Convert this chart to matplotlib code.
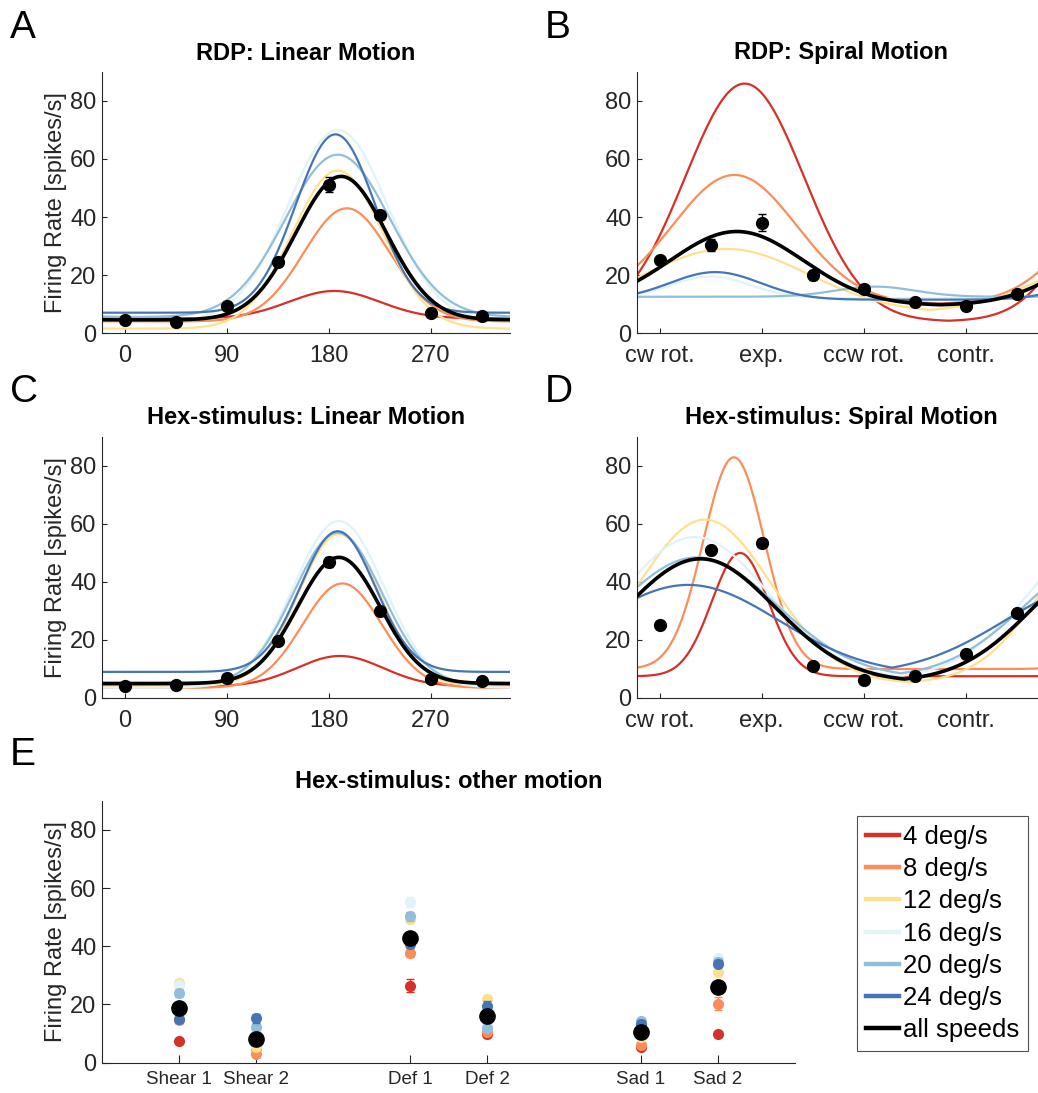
import numpy as np
import matplotlib
matplotlib.use('Agg')
import matplotlib.pyplot as plt
from matplotlib.lines import Line2D

plt.rcParams['font.family'] = ['Liberation Sans', 'DejaVu Sans']

speeds = ['4 deg/s', '8 deg/s', '12 deg/s', '16 deg/s', '20 deg/s', '24 deg/s', 'all speeds']
colors = ['#d73027', '#fc8d59', '#fee090', '#e0f3f8', '#91bfdb', '#4575b4', '#000000']

dirs = [0, 45, 90, 135, 180, 225, 270, 315]
spiral_labels = ['cw rot.', 'exp.', 'ccw rot.', 'contr.']

# measured responses (all speeds pooled) + sem
rdpLin = [4.6, 3.9, 9.4, 24.5, 51.1, 40.6, 6.9, 5.9]
rdpLinErr = [0.8, 0.7, 1.2, 1.5, 2.6, 1.3, 0.9, 0.8]
rdpSpi = [25.1, 30.3, 38.1, 20.0, 15.3, 10.6, 9.4, 13.3]
rdpSpiErr = [1.2, 2.0, 3.0, 1.8, 1.2, 0.8, 0.8, 1.0]
hexLin = [4.0, 4.6, 6.9, 19.7, 46.9, 30.0, 6.5, 5.9]
hexLinErr = [0.6, 0.6, 0.8, 1.2, 1.7, 1.2, 0.7, 0.7]
hexSpi = [25.1, 50.9, 53.4, 11.1, 6.1, 7.7, 15.2, 29.4]
hexSpiErr = [0.4, 0.5, 0.5, 0.4, 0.3, 0.3, 0.4, 0.4]

# fitted tuning curves per speed: (baseline, amplitude, preferred dir, width)
fitRdpLin = [(5, 9.5, 185, 40), (4, 39, 196, 38), (1.5, 54.5, 188, 40), (4, 66, 188, 44),
             (5.5, 56, 188, 46), (7, 61.5, 186, 35), (4.5, 49.5, 191, 40)]
fitRdpSpi = [(4, 82, 75, 52.5), (10, 44.5, 66, 55), (7, 22, 59, 72), (12, 7.5, 45, 35),
             (12.5, 3.5, 190, 35), (11.5, 9.5, 49, 40), (9.5, 25.5, 68, 59)]
fitHexLin = [(4, 10.5, 190, 38), (3.5, 36, 192, 35), (4, 52.5, 189, 36), (3.5, 57.5, 189, 40),
             (4.5, 52.5, 188, 39), (9, 48.5, 188, 33), (5, 43.5, 189, 36.5)]
fitHexSpi = [(7.5, 42.5, 71, 25), (10, 73, 65.5, 27), (5, 56.5, 40, 58.7), (6.5, 49, 31, 65),
             (7, 41.5, 33, 70), (8, 31, 25, 80), (5.5, 42.5, 36, 66)]

# other motion patterns (hex stimulus)
otherCats = ['Shear 1', 'Shear 2', 'Def 1', 'Def 2', 'Sad 1', 'Sad 2']
otherPos = [1, 2, 4, 5, 7, 8]
other = [[7.3, 5.0, 26.4, 9.8, 5.5, 9.7],
         [14.5, 3.0, 37.8, 10.5, 6.1, 20.2],
         [27.4, 5.5, 49.5, 21.8, 9.0, 31.1],
         [26.6, 10.6, 55.2, 12.5, 13.0, 35.8],
         [23.8, 12.1, 50.3, 11.9, 14.2, 34.7],
         [14.9, 15.2, 40.7, 19.4, 13.3, 34.0],
         [18.7, 8.3, 42.7, 16.1, 10.6, 26.1]]
otherErr = [[0.8, 0.6, 2.2, 1.0, 0.8, 0.8],
            [1.0, 0.8, 1.5, 0.9, 0.8, 2.2],
            [1.5, 0.8, 1.5, 1.4, 1.0, 1.2],
            [1.2, 1.0, 1.8, 1.2, 1.2, 1.3],
            [1.4, 1.0, 1.5, 1.0, 1.0, 1.3],
            [1.2, 1.5, 1.3, 1.8, 1.2, 1.2],
            [0.4, 0.4, 0.5, 0.4, 0.4, 0.5]]

W, H = 1038, 1093
axcol = '#262626'


def tuning(x, b, a, mu, s):
    d = (x - mu + 180) % 360 - 180
    return b + a * np.exp(-d**2 / (2.0 * s**2))


def styleAx(ax, ticklen=3.5):
    for sp in ['top', 'right']:
        ax.spines[sp].set_visible(False)
    for sp in ['left', 'bottom']:
        ax.spines[sp].set_color(axcol)
        ax.spines[sp].set_linewidth(0.8)
    ax.tick_params(direction='in', length=ticklen, width=0.8, color=axcol,
                   labelcolor=axcol, labelsize=17, pad=4)
    ax.tick_params(axis='x', pad=8.5)
    ax.set_ylim(0, 90)
    ax.set_yticks([0, 20, 40, 60, 80])


def tuningPanel(rect, fits, resp, err, title, spiral=False, ylabel=True):
    ax = fig.add_axes(rect)
    xs = np.linspace(-20, 340, 721)
    for i, p in enumerate(fits):
        lw = 2.6 if i == 6 else 1.6
        ax.plot(xs, tuning(xs, *p), color=colors[i], lw=lw, zorder=2 + (i == 6))
    ax.errorbar(dirs, resp, yerr=err, fmt='o', color='k', ms=8.5, capsize=3,
                elinewidth=1, zorder=4)
    ax.set_xlim(-20, 340)
    styleAx(ax)
    ax.set_xticks([0, 90, 180, 270])
    if spiral:
        ax.set_xticklabels(spiral_labels)
    if ylabel:
        ax.set_ylabel('Firing Rate [spikes/s]', fontsize=17, color=axcol, labelpad=2)
    ax.set_title(title, fontsize=17, fontweight='bold', pad=9)
    return ax


fig = plt.figure(figsize=(W / 100.0, H / 100.0), dpi=100)

tuningPanel([102 / W, 1 - 333 / H, 408 / W, 261 / H], fitRdpLin, rdpLin, rdpLinErr,
            'RDP: Linear Motion')
tuningPanel([637 / W, 1 - 333 / H, 408 / W, 261 / H], fitRdpSpi, rdpSpi, rdpSpiErr,
            'RDP: Spiral Motion', spiral=True, ylabel=False)
tuningPanel([102 / W, 1 - 698 / H, 408 / W, 261 / H], fitHexLin, hexLin, hexLinErr,
            'Hex-stimulus: Linear Motion')
tuningPanel([637 / W, 1 - 698 / H, 408 / W, 261 / H], fitHexSpi, hexSpi, hexSpiErr,
            'Hex-stimulus: Spiral Motion', spiral=True, ylabel=False)

# panel E
axE = fig.add_axes([102 / W, 1 - 1062.7 / H, 693 / W, 262 / H])
for i in range(7):
    ms = 11 if i == 6 else 7
    axE.errorbar(otherPos, other[i], yerr=otherErr[i], fmt='o', color=colors[i],
                 ms=ms, capsize=3, elinewidth=1, zorder=3 + i)
axE.set_xlim(0, 9)
styleAx(axE, ticklen=5.5)
axE.tick_params(axis='x', pad=6)
axE.set_xticks(otherPos)
axE.set_xticklabels(otherCats, fontsize=13.5)
axE.set_ylabel('Firing Rate [spikes/s]', fontsize=17, color=axcol, labelpad=2)
axE.set_title('Hex-stimulus: other motion', fontsize=17, fontweight='bold', pad=9)

handles = [Line2D([], [], color=c, lw=3.2) for c in colors]
leg = fig.legend(handles, speeds, loc='upper left',
                 bbox_to_anchor=(857 / W, 1 - 816 / H), fontsize=18.5, frameon=True,
                 fancybox=False, edgecolor=axcol, handlelength=1.3, handletextpad=0.15,
                 labelspacing=0.32, borderpad=0.35, borderaxespad=0)
leg.get_frame().set_linewidth(0.8)

for lab, x, y in [('A', 10, 38), ('B', 545, 38), ('C', 10, 402), ('D', 545, 402), ('E', 10, 765)]:
    fig.text(x / W, 1 - y / H, lab, fontsize=28, ha='left', va='baseline')

fig.savefig('out.png', dpi=100)
